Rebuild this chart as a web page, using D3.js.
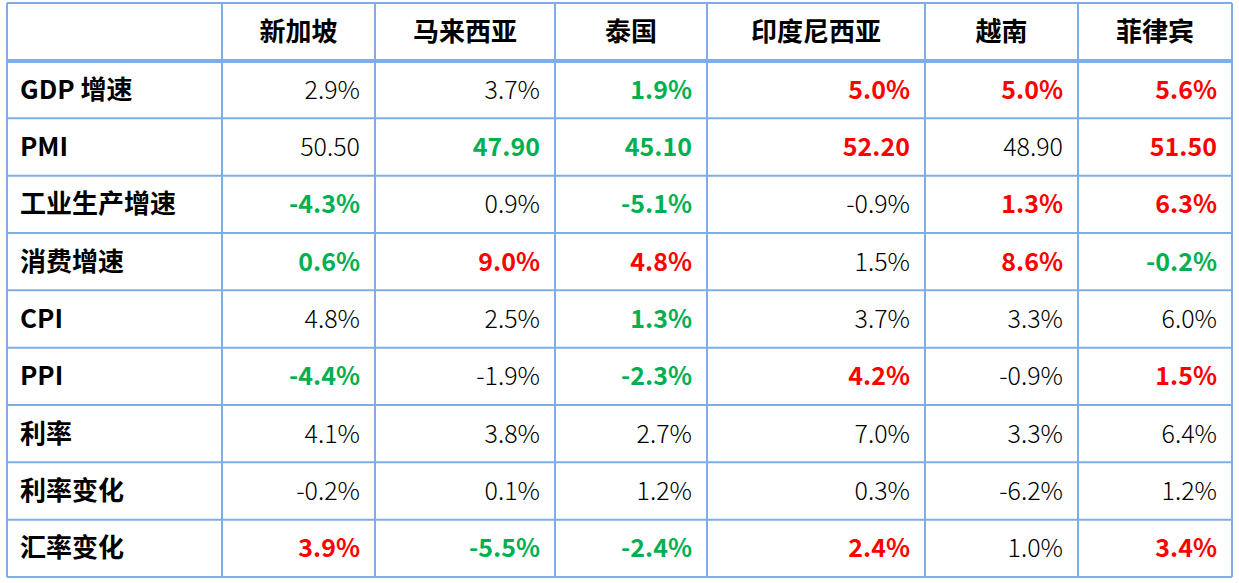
<!DOCTYPE html>
<html><head><meta charset="utf-8">
<script src="https://cdn.jsdelivr.net/npm/d3@7"></script>
<style>body{margin:0;background:#fff}</style></head>
<body><svg id="t" width="1239" height="583"></svg>
<script>
// Table data
const countries = ["新加坡", "马来西亚", "泰国", "印度尼西亚", "越南", "菲律宾"];
const metrics = ["GDP 增速", "PMI", "工业生产增速", "消费增速", "CPI", "PPI", "利率", "利率变化", "汇率变化"];
const values = [
  ["2.9%", "3.7%", "1.9%", "5.0%", "5.0%", "5.6%"],
  ["50.50", "47.90", "45.10", "52.20", "48.90", "51.50"],
  ["-4.3%", "0.9%", "-5.1%", "-0.9%", "1.3%", "6.3%"],
  ["0.6%", "9.0%", "4.8%", "1.5%", "8.6%", "-0.2%"],
  ["4.8%", "2.5%", "1.3%", "3.7%", "3.3%", "6.0%"],
  ["-4.4%", "-1.9%", "-2.3%", "4.2%", "-0.9%", "1.5%"],
  ["4.1%", "3.8%", "2.7%", "7.0%", "3.3%", "6.4%"],
  ["-0.2%", "0.1%", "1.2%", "0.3%", "-6.2%", "1.2%"],
  ["3.9%", "-5.5%", "-2.4%", "2.4%", "1.0%", "3.4%"]
];
// g = green highlight, r = red highlight, "" = plain
const marks = [
  ["", "", "g", "r", "r", "r"],
  ["", "g", "g", "r", "", "r"],
  ["g", "", "g", "", "r", "r"],
  ["g", "r", "r", "", "r", "g"],
  ["", "", "g", "", "", ""],
  ["g", "", "g", "r", "", "r"],
  ["", "", "", "", "", ""],
  ["", "", "", "", "", ""],
  ["r", "g", "g", "r", "", "r"]
];

const colEdges = [7, 222, 375, 555, 707, 925, 1078, 1232];
const tableTop = 3, headBottom = 61, tableBottom = 577;
const svg = d3.select("#t");
const font = "'Noto Sans CJK SC', 'Noto Sans', sans-serif";
const lineColor = "#7eaee3";

const y = d3.scaleBand().domain(d3.range(metrics.length)).range([headBottom, tableBottom]);
const colorOf = {g: "#00b050", r: "#ff0000", "": "#000"};

// header
countries.forEach((c, i) => {
  svg.append("text")
    .attr("x", (colEdges[i + 1] + colEdges[i + 2]) / 2).attr("y", (tableTop + headBottom) / 2 + 9)
    .attr("text-anchor", "middle").attr("font-family", font).attr("font-weight", 700)
    .attr("font-size", 26).text(c);
});

metrics.forEach((m, r) => {
  const cy = y(r) + y.bandwidth() / 2 + 9;
  svg.append("text").attr("x", 20).attr("y", cy)
    .attr("font-family", font).attr("font-weight", 700).attr("font-size", 26).text(m);
  values[r].forEach((v, i) => {
    const k = marks[r][i];
    svg.append("text").attr("x", colEdges[i + 2] - 15).attr("y", cy)
      .attr("text-anchor", "end").attr("font-family", font)
      .attr("font-weight", k ? 700 : 300).attr("font-size", 25)
      .attr("fill", colorOf[k]).text(v);
  });
});

// grid
const grid = svg.append("g").attr("stroke", lineColor);
colEdges.forEach(x => grid.append("line").attr("x1", x).attr("x2", x).attr("y1", tableTop).attr("y2", tableBottom).attr("stroke-width", 2));
[tableTop, ...d3.range(1, metrics.length).map(r => y(r)), tableBottom].forEach(v =>
  grid.append("line").attr("x1", colEdges[0]).attr("x2", colEdges[7]).attr("y1", v).attr("y2", v).attr("stroke-width", 2));
grid.append("line").attr("x1", colEdges[0]).attr("x2", colEdges[7]).attr("y1", headBottom).attr("y2", headBottom).attr("stroke-width", 4);
</script></body></html>
